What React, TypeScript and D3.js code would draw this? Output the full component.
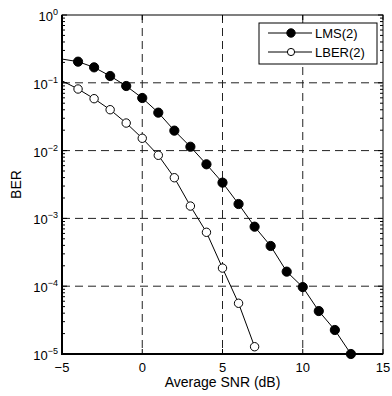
import { useEffect, useRef } from "react";
import * as d3 from "d3";

// SNR grid (dB); the first point (-5) only feeds the line, no marker drawn there
const snr = [-5, -4, -3, -2, -1, 0, 1, 2, 3, 4, 5, 6, 7, 8, 9, 10, 11, 12, 13];
const lms = [
  0.224, 0.205, 0.169, 0.126, 0.0897, 0.0597, 0.0363, 0.0197, 0.0114, 0.00628,
  0.00337, 0.00163, 7.55e-4, 3.92e-4, 1.64e-4, 9.7e-5, 4.3e-5, 2.26e-5, 1.0e-5,
];
const lber = [
  0.107, 0.081, 0.0583, 0.0401, 0.0255, 0.0152, 0.00853, 0.00398, 0.00152,
  6.24e-4, 1.85e-4, 5.6e-5, 1.28e-5,
];
const xTicks = [-5, 0, 5, 10, 15];
const yExps = [0, -1, -2, -3, -4, -5];

const W = 392;
const H = 396;
const M = { left: 62, right: 9, top: 15, bottom: 42 };
const FONT = "'Liberation Sans', Arial, Helvetica, sans-serif";

export default function App() {
  const ref = useRef<SVGSVGElement | null>(null);

  useEffect(() => {
    const svg = d3.select(ref.current);
    svg.selectAll("*").remove();

    const x = d3.scaleLinear().domain([-5, 15]).range([M.left, W - M.right]);
    const y = d3.scaleLog().domain([1e-5, 1]).range([H - M.bottom, M.top]);
    const [x0, x1] = x.range();
    const [yb, yt] = y.range();

    const clip = svg.append("defs").append("clipPath").attr("id", "plotclip");
    clip.append("rect").attr("x", x0).attr("y", yt).attr("width", x1 - x0).attr("height", yb - yt);

    // dashed grid
    const grid = svg.append("g").attr("stroke", "#222").attr("stroke-width", 1).attr("stroke-dasharray", "8,5");
    xTicks.slice(1, -1).forEach((t) => {
      grid.append("line").attr("x1", x(t)).attr("x2", x(t)).attr("y1", yt).attr("y2", yb);
    });
    yExps.slice(1, -1).forEach((e) => {
      grid.append("line").attr("x1", x0).attr("x2", x1).attr("y1", y(10 ** e)).attr("y2", y(10 ** e));
    });

    // ticks, inward, on all four sides
    const ticks = svg.append("g").attr("stroke", "#000").attr("stroke-width", 1);
    xTicks.forEach((t) => {
      ticks.append("line").attr("x1", x(t)).attr("x2", x(t)).attr("y1", yb).attr("y2", yb - 5);
      ticks.append("line").attr("x1", x(t)).attr("x2", x(t)).attr("y1", yt).attr("y2", yt + 5);
    });
    for (let e = -5; e <= 0; e++) {
      ticks.append("line").attr("x1", x0).attr("x2", x0 + 5).attr("y1", y(10 ** e)).attr("y2", y(10 ** e));
      ticks.append("line").attr("x1", x1).attr("x2", x1 - 5).attr("y1", y(10 ** e)).attr("y2", y(10 ** e));
      if (e < 0) {
        for (let m = 2; m <= 9; m++) {
          const v = m * 10 ** e;
          ticks.append("line").attr("x1", x0).attr("x2", x0 + 3).attr("y1", y(v)).attr("y2", y(v));
          ticks.append("line").attr("x1", x1).attr("x2", x1 - 3).attr("y1", y(v)).attr("y2", y(v));
        }
      }
    }

    // box
    svg.append("rect").attr("x", x0).attr("y", yt).attr("width", x1 - x0).attr("height", yb - yt)
      .attr("fill", "none").attr("stroke", "#000").attr("stroke-width", 1);
    svg.append("line").attr("x1", x0).attr("x2", x0).attr("y1", yt).attr("y2", yb + 1)
      .attr("stroke", "#000").attr("stroke-width", 2);
    svg.append("line").attr("x1", x0 - 1).attr("x2", x1).attr("y1", yb).attr("y2", yb)
      .attr("stroke", "#000").attr("stroke-width", 2);

    // series
    const line = d3.line<[number, number]>().x((d) => x(d[0])).y((d) => y(d[1]));
    const series = [
      { vals: lms, fill: "#000", r: 4.6 },
      { vals: lber, fill: "#fff", r: 4.2 },
    ];
    const plot = svg.append("g").attr("clip-path", "url(#plotclip)");
    series.forEach((s) => {
      const pts = s.vals.map((v, i) => [snr[i], v] as [number, number]);
      plot.append("path").datum(pts).attr("fill", "none").attr("stroke", "#000").attr("stroke-width", 1).attr("d", line);
    });
    series.forEach((s) => {
      const pts = s.vals.map((v, i) => [snr[i], v] as [number, number]).slice(1);
      svg.append("g").selectAll("circle").data(pts).join("circle")
        .attr("cx", (d) => x(d[0])).attr("cy", (d) => y(d[1])).attr("r", s.r)
        .attr("fill", s.fill).attr("stroke", "#000").attr("stroke-width", 1);
    });

    // tick labels
    const txt = svg.append("g").attr("font-family", FONT).attr("fill", "#000");
    xTicks.forEach((t) => {
      txt.append("text").attr("x", x(t)).attr("y", yb + 18).attr("text-anchor", "middle").attr("font-size", 13)
        .text(t < 0 ? `\u2212${Math.abs(t)}` : `${t}`);
    });
    yExps.forEach((e) => {
      const t = txt.append("text").attr("x", x0 - 4).attr("y", y(10 ** e) + 6).attr("text-anchor", "end").attr("font-size", 13);
      t.append("tspan").text("10");
      t.append("tspan").attr("font-size", 9).attr("dy", -6).text(e === 0 ? "0" : `\u2212${Math.abs(e)}`);
    });

    txt.append("text").attr("x", (x0 + x1) / 2).attr("y", H - 9).attr("text-anchor", "middle").attr("font-size", 14)
      .text("Average SNR (dB)");
    txt.append("text").attr("transform", `translate(21,${(yt + yb) / 2}) rotate(-90)`).attr("text-anchor", "middle")
      .attr("font-size", 14).text("BER");

    // legend
    const lg = svg.append("g").attr("font-family", FONT);
    lg.append("rect").attr("x", 259).attr("y", 23).attr("width", 118).attr("height", 41)
      .attr("fill", "#fff").attr("stroke", "#000").attr("stroke-width", 1);
    const names = ["LMS(2)", "LBER(2)"];
    series.forEach((s, i) => {
      const ly = 33 + i * 19;
      lg.append("line").attr("x1", 268).attr("x2", 312).attr("y1", ly).attr("y2", ly).attr("stroke", "#000");
      lg.append("circle").attr("cx", 291).attr("cy", ly).attr("r", i === 0 ? 4.2 : 3.6)
        .attr("fill", s.fill).attr("stroke", "#000");
      lg.append("text").attr("x", 315).attr("y", ly + 5).attr("font-size", 13).text(names[i]);
    });
  }, []);

  return (
    <svg
      ref={ref}
      width={W}
      height={H}
      style={{ position: "absolute", left: 0, top: 0, background: "#fff" }}
    />
  );
}
